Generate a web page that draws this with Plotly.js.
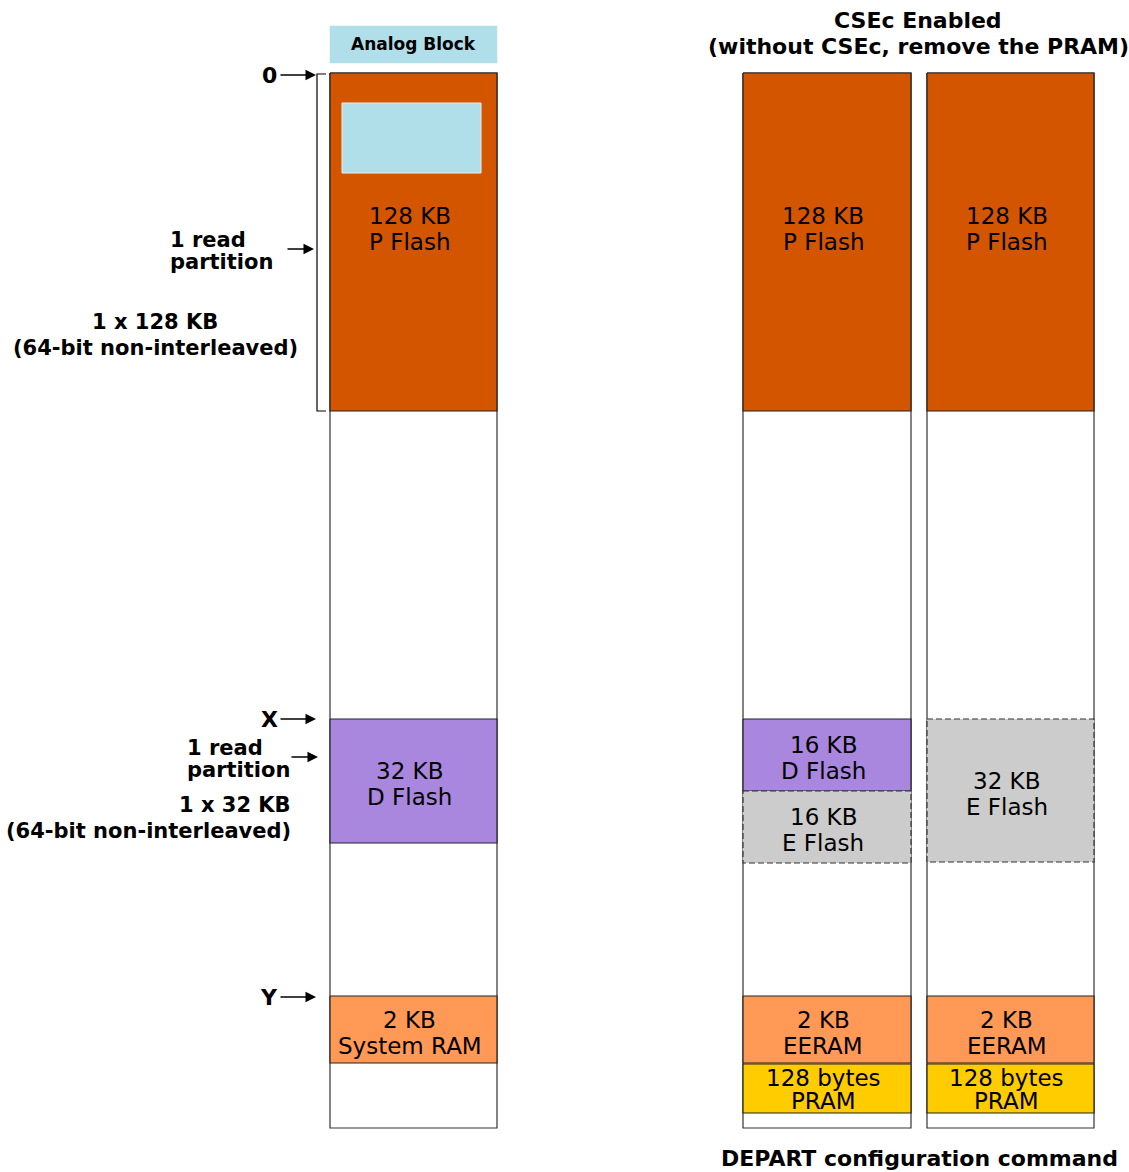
<!DOCTYPE html>
<html>
<head>
<meta charset="utf-8">
<script src="https://cdn.plot.ly/plotly-3.0.1.min.js"></script>
<style>html,body{margin:0;padding:0;background:#fff;}#chart{width:1129px;height:1172px;}</style>
</head>
<body>
<div id="chart"></div>
<script>
// ---------------- DATA ----------------
// memory-map columns (drawn address range, top to bottom)
const columnNames  = ['Default', 'CSEc (D/E split)', 'CSEc (E only)'];
const columnTop    = [73, 73, 73];
const columnBottom = [1128, 1128, 1128];

// blocks in each column
const blockColumn = [0, 0, 0, 1, 1, 1, 1, 1, 2, 2, 2, 2];
const blockSize   = ['128 KB', '32 KB', '2 KB', '128 KB', '16 KB', '16 KB', '2 KB', '128 bytes', '128 KB', '32 KB', '2 KB', '128 bytes'];
const blockName   = ['P Flash', 'D Flash', 'System RAM', 'P Flash', 'D Flash', 'E Flash', 'EERAM', 'PRAM', 'P Flash', 'E Flash', 'EERAM', 'PRAM'];
const blockStart  = [73, 719, 996, 73, 719, 791, 996, 1064, 73, 719, 996, 1064];
const blockEnd    = [411, 843, 1063, 411, 791, 863, 1063, 1113, 411, 862, 1063, 1113];

// address markers on the first column
const markerLabels = ['0', 'X', 'Y'];
const markerAddr   = [75, 719, 997];

// partition notes
const partitionText  = [['1 read', 'partition'], ['1 read', 'partition']];
const partitionSize  = [['1 x 128 KB', '(64-bit non-interleaved)'], ['1 x 32 KB', '(64-bit non-interleaved)']];
const partitionAddr  = [249, 757];

const titleLines  = ['CSEc Enabled', '(without CSEc, remove the PRAM)'];
const footerText  = 'DEPART configuration command';
const analogLabel = 'Analog Block';

// ---------------- STYLE / LAYOUT ----------------
const colLeft  = [330, 743, 927];
const colRight = [497, 911, 1094];
const styles = {
  'P Flash':    {fill: '#D45500', dash: 'solid', off: -13},
  'D Flash':    {fill: '#A987DE', dash: 'solid', off: 3},
  'E Flash':    {fill: '#CCCCCC', dash: '6px,3px', off: 3},
  'System RAM': {fill: '#FF9955', dash: 'solid', off: 3},
  'EERAM':      {fill: '#FF9955', dash: 'solid', off: 3},
  'PRAM':       {fill: '#FFCC00', dash: 'solid', off: 1}
};
const FONT = 'DejaVu Sans, Liberation Sans, Arial, sans-serif';
const lightBlue = '#B0DEE9';

const traces = [];
const annotations = [];

function rect(l, r, t, b, fill, lineColor, dash, width) {
  traces.push({
    type: 'scatter', mode: 'lines', hoverinfo: 'skip', showlegend: false,
    x: [l, r, r, l, l], y: [t, t, b, b, t],
    fill: 'toself', fillcolor: fill,
    line: {color: lineColor, width: width, dash: dash}
  });
}
function txt(x, y, s, size, bold, xanchor) {
  annotations.push({
    x: x, y: y, xref: 'x', yref: 'y', showarrow: false,
    text: bold ? '<b>' + s + '</b>' : s,
    xanchor: xanchor || 'center', yanchor: 'middle',
    font: {family: FONT, size: size, color: '#000'}
  });
}
function arrow(x0, x1, y) {
  annotations.push({
    x: x1, y: y, ax: x0, ay: y, xref: 'x', yref: 'y', axref: 'x', ayref: 'y',
    text: '', showarrow: true, arrowhead: 2, arrowsize: 1.5, arrowwidth: 1.4,
    arrowcolor: '#000', standoff: 0, startstandoff: 0
  });
}

// column outlines
columnNames.forEach((n, i) => {
  rect(colLeft[i], colRight[i], columnTop[i], columnBottom[i], '#FFFFFF', '#333', 'solid', 1.2);
});

// blocks
blockName.forEach((n, i) => {
  const c = blockColumn[i];
  const st = styles[n];
  const dashed = st.dash !== 'solid';
  rect(colLeft[c], colRight[c], blockStart[i], blockEnd[i], st.fill, dashed ? '#333' : '#222', st.dash, 1.2);
});

// analog block (header box and inner box in the first P Flash)
rect(colLeft[0], colRight[0], 26, 63, lightBlue, lightBlue, 'solid', 0.5);
rect(342, 481, 103, 173, lightBlue, '#E6F0F2', 'solid', 1);
txt((colLeft[0] + colRight[0]) / 2, 44, analogLabel, 17, true);

// block labels
blockName.forEach((n, i) => {
  const c = blockColumn[i];
  const st = styles[n];
  const cx = (colLeft[c] + colRight[c]) / 2 - 4;
  const cy = (blockStart[i] + blockEnd[i]) / 2 + st.off;
  const h = blockEnd[i] - blockStart[i];
  const gap = Math.min(26, (h - 3) / 2);
  txt(cx, cy - gap / 2, blockSize[i], 23, false);
  txt(cx, cy + gap / 2, n, 23, false);
});

// bracket
traces.push({
  type: 'scatter', mode: 'lines', hoverinfo: 'skip', showlegend: false,
  x: [326, 317, 317, 326], y: [blockStart[0] + 1, blockStart[0] + 1, blockEnd[0], blockEnd[0]],
  line: {color: '#000', width: 1.2}
});

// address markers
markerLabels.forEach((m, i) => {
  txt(269, markerAddr[i], m, 22, true);
  arrow(279, 316, markerAddr[i]);
});

// partition notes
// top
txt(168, partitionAddr[0] - 9, partitionText[0][0], 21, true, 'left');
txt(168, partitionAddr[0] + 13, partitionText[0][1], 21, true, 'left');
arrow(286, 314, partitionAddr[0]);
txt(155, 322, partitionSize[0][0], 21, true);
txt(155, 348, partitionSize[0][1], 21, true);
// bottom
txt(185, partitionAddr[1] - 9, partitionText[1][0], 21, true, 'left');
txt(185, partitionAddr[1] + 13, partitionText[1][1], 21, true, 'left');
arrow(290, 318, partitionAddr[1]);
txt(293, 805, partitionSize[1][0], 21, true, 'right');
txt(293, 831, partitionSize[1][1], 21, true, 'right');

// titles
txt(918, 20, titleLines[0], 22, true);
txt(918, 46, titleLines[1], 22, true);
txt(919, 1158, footerText, 22, true);

const layout = {
  width: 1129, height: 1172,
  margin: {l: 0, r: 0, t: 0, b: 0},
  paper_bgcolor: '#fff', plot_bgcolor: '#fff',
  xaxis: {range: [0, 1129], visible: false, fixedrange: true},
  yaxis: {range: [1172, 0], visible: false, fixedrange: true},
  annotations: annotations,
  showlegend: false
};
Plotly.newPlot('chart', traces, layout, {staticPlot: true, displayModeBar: false});
</script>
</body>
</html>
